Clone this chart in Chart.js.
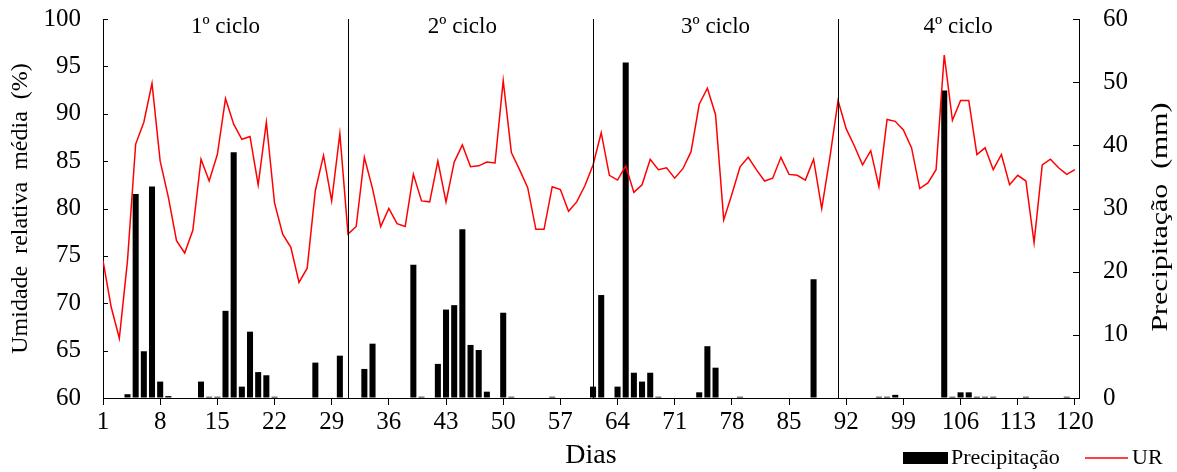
<!DOCTYPE html>
<html><head><meta charset="utf-8">
<script src="https://cdn.jsdelivr.net/npm/chart.js@4.4.1/dist/chart.umd.min.js"></script>
<style>html,body{margin:0;padding:0;background:#fff;}#wrap{width:1177px;height:472px;}</style>
</head><body><div id="wrap"><canvas id="c" width="1177" height="472"></canvas></div>
<script>
const days = Array.from({length:120}, (_, i) => i + 1);
const urValues = [
74.5,69.6,66.3,74.5,86.8,89.1,93.2,85.0,81.2,76.6,
75.3,77.7,85.2,82.9,85.7,91.6,88.9,87.3,87.6,82.5,
89.1,80.6,77.3,75.9,72.2,73.7,81.9,85.6,80.8,87.9,
77.3,78.1,85.4,82.1,78.1,80.0,78.4,78.1,83.6,80.8,
80.7,85.0,80.7,84.9,86.7,84.4,84.5,84.9,84.8,93.5,
85.9,84.1,82.2,77.8,77.8,82.3,82.0,79.7,80.7,82.4,
84.6,88.0,83.5,83.0,84.5,81.7,82.5,85.2,84.1,84.3,
83.2,84.2,86.0,91.0,92.7,89.9,78.8,81.5,84.4,85.4,
84.1,82.9,83.2,85.4,83.6,83.5,83.0,85.2,80.0,85.4,
91.4,88.4,86.6,84.6,86.1,82.3,89.4,89.2,88.3,86.4,
82.1,82.7,84.1,96.2,89.3,91.4,91.4,85.7,86.4,84.1,
85.7,82.5,83.5,82.9,76.4,84.6,85.2,84.3,83.6,84.1
];
const precipValues = [
0,0,0,0.6,32.3,7.4,33.5,2.6,0.3,0,
0,0,2.6,0.2,0.2,13.8,38.9,1.8,10.5,4.1,
3.6,0.2,0,0,0,0,5.6,0,0,6.7,
0,0,4.6,8.6,0,0,0,0,21.1,0.2,
0,5.4,14.0,14.7,26.7,8.4,7.6,1.0,0,13.5,
0.2,0,0,0,0,0.2,0,0,0,0,
1.8,16.3,0,1.8,53.1,4.0,2.6,4.0,0.2,0,
0,0,0,0.9,8.2,4.8,0,0,0.2,0,
0,0,0,0,0,0,0,18.8,0,0,
0,0,0,0,0,0.2,0.2,0.5,0,0,
0,0,0,48.7,0.2,0.9,0.9,0.2,0.2,0.2,
0,0,0,0.2,0,0,0,0,0.2,0
];
const xTickDays = [1,8,15,22,29,36,43,50,57,64,71,78,85,92,99,106,113,120];
const urTicks = [60,65,70,75,80,85,90,95,100];
const precipTicks = [0,10,20,30,40,50,60];
const cycleBounds = [31,61,91];
const cycleLabels = ['1º ciclo','2º ciclo','3º ciclo','4º ciclo'];
const cycleLabelDays = [16,45,76,105.7];
const seriesNames = ['Precipitação','UR'];
const axisTitles = {x:'Dias', y:'Umidade  relativa  média  (%)', y1:'Precipitação  (mm)'};

const FF = "'Liberation Serif','Times New Roman',serif";

const extras = {
  id:'extras',
  afterDatasetsDraw(chart){
    const ctx = chart.ctx, a = chart.chartArea;
    const xs = chart.scales.x, ys = chart.scales.y, y1 = chart.scales.y1;
    ctx.save();
    ctx.strokeStyle = '#000'; ctx.lineWidth = 1;
    cycleBounds.forEach(d => {
      const px = Math.round(xs.getPixelForValue(d)) + 0.5;
      ctx.beginPath(); ctx.moveTo(px, a.top); ctx.lineTo(px, a.bottom); ctx.stroke();
    });
    urTicks.forEach(v => {
      const py = Math.round(ys.getPixelForValue(v)) + 0.5;
      ctx.beginPath(); ctx.moveTo(a.left, py); ctx.lineTo(a.left + 5, py); ctx.stroke();
    });
    precipTicks.forEach(v => {
      const py = Math.round(y1.getPixelForValue(v)) + 0.5;
      ctx.beginPath(); ctx.moveTo(a.right - 6, py); ctx.lineTo(a.right, py); ctx.stroke();
    });
    ctx.fillStyle = '#000';
    ctx.font = '23px ' + FF;
    ctx.textAlign = 'center'; ctx.textBaseline = 'middle';
    cycleLabels.forEach((t, i) => {
      ctx.fillText(t, xs.getPixelForValue(cycleLabelDays[i]), 27);
    });
    ctx.save();
    ctx.translate(1161, 217);
    ctx.rotate(-Math.PI / 2);
    ctx.scale(1.3, 1);
    ctx.font = '23px ' + FF;
    ctx.fillText(axisTitles.y1, 0, 0);
    ctx.restore();
    ctx.fillStyle = '#000';
    ctx.fillRect(903, 452, 45, 12);
    ctx.font = '22px ' + FF;
    ctx.textAlign = 'left';
    ctx.fillText(seriesNames[0], 951, 458);
    ctx.strokeStyle = '#ff0000'; ctx.lineWidth = 1.5;
    ctx.beginPath(); ctx.moveTo(1085, 458); ctx.lineTo(1128, 458); ctx.stroke();
    ctx.fillStyle = '#000';
    ctx.fillText(seriesNames[1], 1132, 458);
    ctx.restore();
  }
};

new Chart(document.getElementById('c'), {
  type: 'bar',
  data: {
    datasets: [
      {
        type: 'line', label: seriesNames[1], yAxisID: 'y', order: 0,
        data: urValues.map((v, i) => ({x: days[i], y: v})),
        borderColor: '#ff0000', borderWidth: 1.5, pointRadius: 0, tension: 0, fill: false
      },
      {
        type: 'bar', label: seriesNames[0], yAxisID: 'y1', order: 1,
        data: precipValues.map((v, i) => ({x: days[i], y: v})),
        backgroundColor: '#000', borderWidth: 0,
        barPercentage: 0.74, categoryPercentage: 1
      }
    ]
  },
  options: {
    responsive: false, animation: false, devicePixelRatio: 1,
    layout: {padding: {top: 19, left: 0, right: 0, bottom: 0}},
    plugins: {legend: {display: false}, tooltip: {enabled: false}},
    scales: {
      x: {
        type: 'linear', position: 'bottom', min: 1, max: 120.5, offset: false,
        afterBuildTicks: s => { s.ticks = xTickDays.map(v => ({value: v})); },
        afterFit: s => { s.height = 74; },
        grid: {drawOnChartArea: false, drawTicks: true, tickLength: 7, color: '#000', offset: false},
        border: {display: true, color: '#000', width: 1},
        ticks: {font: {family: FF, size: 25}, color: '#000', padding: 2, maxRotation: 0, autoSkip: false},
        title: {display: true, text: axisTitles.x, font: {family: FF, size: 28}, color: '#000', padding: {top: 0, bottom: 0}}
      },
      y: {
        position: 'left', min: 60, max: 100,
        afterBuildTicks: s => { s.ticks = urTicks.map(v => ({value: v})); },
        afterFit: s => { s.width = 103; },
        grid: {drawOnChartArea: false, drawTicks: true, tickLength: 20, tickColor: 'rgba(0,0,0,0)'},
        border: {display: true, color: '#000', width: 1},
        ticks: {font: {family: FF, size: 25}, color: '#000', padding: 2},
        title: {display: true, text: axisTitles.y, font: {family: FF, size: 24}, color: '#000', padding: {top: 6, bottom: 0}}
      },
      y1: {
        position: 'right', min: 0, max: 60,
        afterBuildTicks: s => { s.ticks = precipTicks.map(v => ({value: v})); },
        afterFit: s => { s.width = 98; },
        grid: {drawOnChartArea: false, drawTicks: true, tickLength: 22, tickColor: 'rgba(0,0,0,0)'},
        border: {display: true, color: '#000', width: 1},
        ticks: {font: {family: FF, size: 25}, color: '#000', padding: 2}
      }
    }
  },
  plugins: [extras]
});
</script>
</body></html>
